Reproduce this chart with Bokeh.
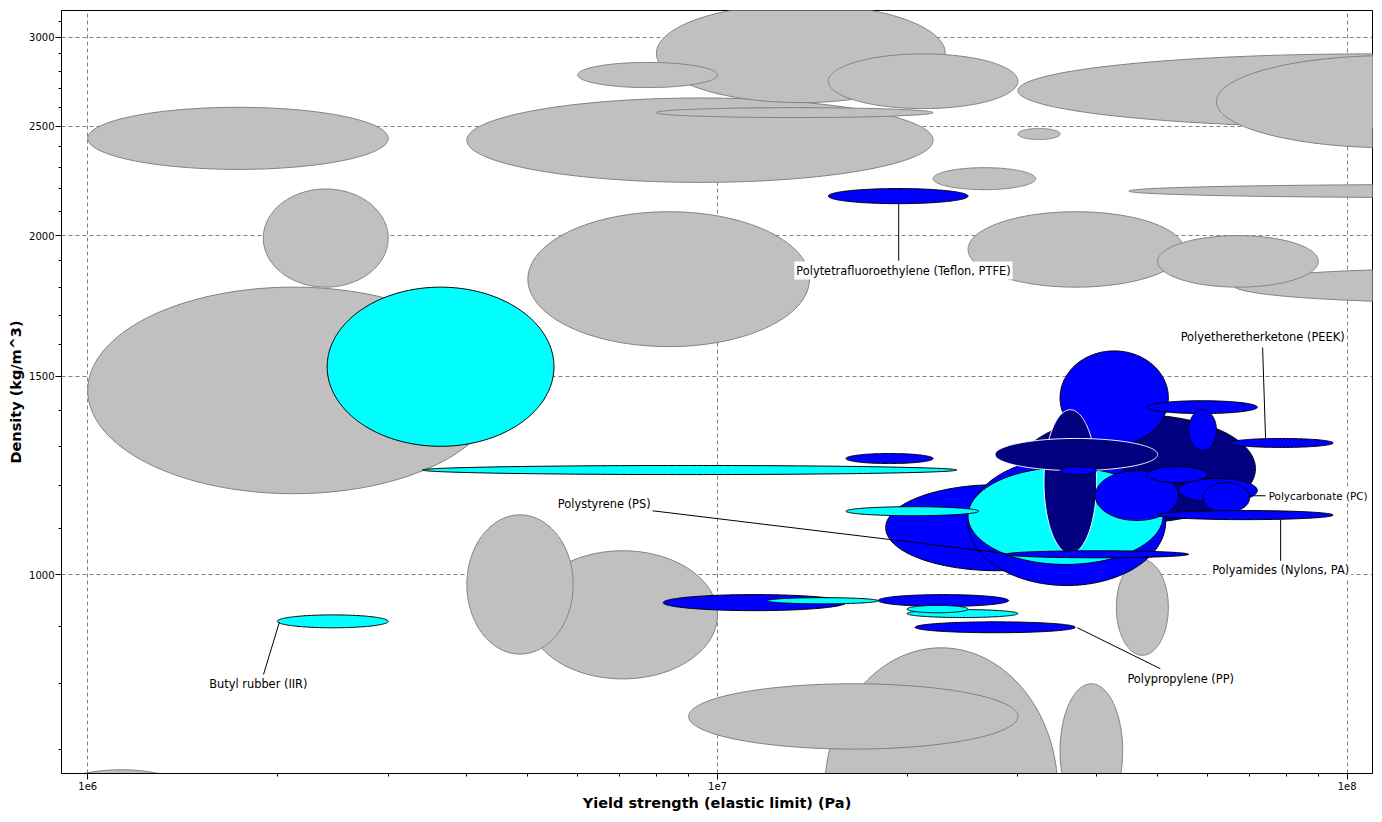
import numpy as np
from bokeh.plotting import figure
from bokeh.models import Range1d, FixedTicker, CustomJSTickFormatter, Label, ColumnDataSource
from bokeh.embed import file_html
from bokeh.resources import INLINE

GRAY, BLUE, NAVY, CYAN = "#C0C0C0", "#0000FF", "#000080", "#00FFFF"

# yield strength range (Pa), density range (kg/m^3), in drawing order
sy_min = [8.3e5, 1.0e6, 1.9e6, 1.0e6, 4.0e6, 8.0e6, 6.0e6, 8.0e6, 1.5e7, 3.0e7, 6.2e7, 3.0e7,
          2.2e7, 4.5e7, 5.0e6, 2.5e7, 6.6e7, 5.0e7, 5.0e6, 4.0e6, 1.48e7, 9.0e6, 3.5e7, 4.3e7,
          2.4e6, 3.4e6, 1.6e7, 2.0e6, 8.2e6, 1.2e7, 1.8e7, 2.0e7, 2.0e7, 2.06e7, 1.5e7,
          3.0e7, 3.5e7, 1.85e7, 2.5e7, 2.5e7, 3.3e7, 2.76e7, 3.5e7, 2.87e7, 3.98e7, 4.8e7,
          5.4e7, 5.9e7, 5.0e7, 4.8e7, 5.6e7, 6.5e7, 1.6e7]
sy_max = [1.54e6, 4.5e6, 3.0e6, 3.0e6, 2.2e7, 2.3e7, 1.0e7, 2.2e7, 3.0e7, 4.0e8, 2.2e8, 3.5e7,
          3.2e7, 4.5e8, 1.4e7, 5.5e7, 3.6e8, 9.0e7, 1.0e7, 5.9e6, 3.47e7, 3.0e7, 4.4e7, 5.2e7,
          5.5e6, 2.4e7, 2.2e7, 3.0e6, 1.6e7, 1.8e7, 2.9e7, 3.0e7, 2.5e7, 3.7e7, 2.5e7,
          7.15e7, 5.2e7, 4.2e7, 5.15e7, 5.1e7, 4.0e7, 5.0e7, 4.0e7, 5.6e7, 5.4e7, 6.0e7,
          7.2e7, 7.0e7, 9.5e7, 7.2e7, 6.2e7, 9.5e7, 2.6e7]
rho_min = [579, 1180, 1800, 2290, 2230, 2625, 2707, 2546, 2593, 2495, 2394, 2434,
           2197, 2162, 1594, 1800, 1744, 1800, 808, 850, 480, 700, 608, 848,
           1300, 1227, 1255, 897, 929, 942, 937, 916, 925, 888, 2135,
           1112, 1304, 1008, 978, 1021, 1044, 1237, 1227, 1035, 1117, 1207,
           1159, 1135, 1119, 1390, 1289, 1297, 1128]
rho_max = [671, 1800, 2200, 2600, 2650, 3210, 2850, 2598, 2900, 2900, 2890, 2490,
           2298, 2220, 2100, 2100, 1870, 2000, 1050, 1130, 861, 800, 800, 1031,
           1800, 1250, 1281, 921, 960, 954, 960, 931, 939, 908, 2202,
           1387, 1580, 1202, 1270, 1245, 1401, 1321, 1247, 1050, 1237, 1247,
           1217, 1207, 1140, 1427, 1401, 1321, 1149]
fills = [GRAY] * 24 + [CYAN, CYAN, BLUE, CYAN, BLUE, CYAN, BLUE, CYAN, CYAN, BLUE, BLUE,
                       NAVY, BLUE, BLUE, BLUE, CYAN, NAVY, NAVY, BLUE, BLUE, BLUE, BLUE,
                       BLUE, BLUE, BLUE, BLUE, BLUE, BLUE, CYAN]
edges = ["#808080"] * 24 + ["black"] * 16 + ["white", "white"] + ["black"] * 11

# annotations
label_text = ["Polytetrafluoroethylene (Teflon, PTFE)", "Polyetheretherketone (PEEK)",
              "Polycarbonate (PC)", "Polyamides (Nylons, PA)", "Polystyrene (PS)",
              "Polypropylene (PP)", "Butyl rubber (IIR)"]
label_x = [1.974e7, 7.34e7, 7.45e7, 7.84e7, 6.61e6, 5.44e7, 1.866e6]
label_y = [1862, 1627, 1175, 1010, 1156, 808, 800]
label_align = ["center", "center", "left", "center", "center", "center", "center"]
label_size = ["11.4px", "11.4px", "10.4px", "11.4px", "11.4px", "11.4px", "11.4px"]
lead_x0 = [1.94e7, 7.42e7, 7.02e7, 7.84e7, 2.87e7, 3.73e7, 2.016e6]
lead_y0 = [2135, 1321, 1175, 1119, 1044, 897, 908]
lead_x1 = [1.94e7, 7.34e7, 7.42e7, 7.84e7, 7.83e6, 5.05e7, 1.901e6]
lead_y1 = [1900, 1591, 1175, 1027, 1140, 825, 815]

x_major = [1e6, 1e7, 1e8]
x_minor = [k * 10.0 ** d for d in (5, 6, 7, 8) for k in range(1, 10)]
y_major = [1000, 1500, 2000, 2500, 3000]
y_minor = list(range(500, 3300, 100))

p = figure(width=1380, height=818, x_axis_type="log", y_axis_type="log",
           x_range=Range1d(9.085e5, 1.097e8), y_range=Range1d(665.9, 3169),
           output_backend="svg", toolbar_location=None,
           min_border_left=61, min_border_right=8, min_border_top=10, min_border_bottom=45)

t = np.linspace(0, 2 * np.pi, 241)
xs, ys = [], []
for a, b, c, d in zip(sy_min, sy_max, rho_min, rho_max):
    lcx, rx = (np.log10(a) + np.log10(b)) / 2, (np.log10(b) - np.log10(a)) / 2
    lcy, ry = (np.log10(c) + np.log10(d)) / 2, (np.log10(d) - np.log10(c)) / 2
    xs.append(list(10 ** (lcx + rx * np.cos(t))))
    ys.append(list(10 ** (lcy + ry * np.sin(t))))

src = ColumnDataSource(dict(xs=xs, ys=ys, fill=fills, edge=edges))
p.patches("xs", "ys", source=src, fill_color="fill", line_color="edge", line_width=1)

p.segment(x0=lead_x0, y0=lead_y0, x1=lead_x1, y1=lead_y1, line_color="black", line_width=1)

for txt, lx, ly, al, sz in zip(label_text, label_x, label_y, label_align, label_size):
    p.add_layout(Label(x=lx, y=ly, text=txt, text_align=al, text_baseline="middle",
                       text_font="DejaVu Sans", text_font_size=sz, text_color="black",
                       background_fill_color="white", padding=2))

p.xaxis.ticker = FixedTicker(ticks=x_major, minor_ticks=x_minor)
p.yaxis.ticker = FixedTicker(ticks=y_major, minor_ticks=y_minor)
p.xaxis.formatter = CustomJSTickFormatter(code="return '1e' + Math.round(Math.log10(tick));")
p.yaxis.formatter = CustomJSTickFormatter(code="return tick.toFixed(0);")

p.xaxis.axis_label = "Yield strength (elastic limit) (Pa)"
p.yaxis.axis_label = "Density (kg/m^3)"
for ax in (p.xaxis, p.yaxis):
    ax.axis_label_text_font = "DejaVu Sans"
    ax.axis_label_text_font_style = "bold"
    ax.axis_label_text_font_size = "14.5px"
    ax.axis_label_text_color = "black"
    ax.major_label_text_font = "DejaVu Sans"
    ax.major_label_text_font_size = "10px"
    ax.major_label_text_color = "black"
    ax.major_tick_out = 6
    ax.major_tick_in = 0
    ax.minor_tick_out = 3
    ax.minor_tick_in = 0
    ax.axis_line_color = "black"
    ax.major_tick_line_color = "black"
    ax.minor_tick_line_color = "black"
p.xaxis.axis_label_standoff = 2
p.xaxis.major_label_standoff = 2
p.yaxis.axis_label_standoff = 2
p.yaxis.major_label_standoff = 1

p.grid.grid_line_color = "#808080"
p.grid.grid_line_dash = "4 3"
p.grid.grid_line_width = 1
p.outline_line_color = "black"
p.outline_line_width = 1
p.background_fill_color = "white"
p.border_fill_color = "white"

open("out.html", "w").write(file_html(p, INLINE))
